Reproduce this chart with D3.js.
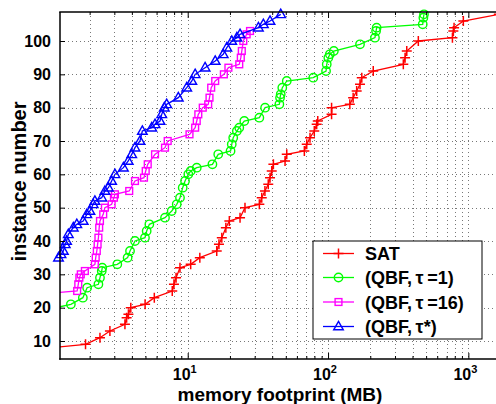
<!DOCTYPE html>
<html><head><meta charset="utf-8">
<script src="https://cdn.jsdelivr.net/npm/d3@7"></script>
<style>body{margin:0;background:#fff}svg{display:block}</style>
</head><body>
<svg id="c" width="496" height="404"></svg>
<script>
// ---- data (memory footprint in MB, instance number) ----
const satMem  = [1.1,1.87,2.37,2.79,3.57,3.67,3.78,3.93,4.97,5.78,7.76,7.98,8.26,8.81,10.5,12.2,16.1,16.7,17.5,18.7,19.8,23.6,25.6,32.4,33.7,35.5,37.5,38.6,39.7,40.8,49.4,50.8,67.8,70.5,74.4,79.8,83.0,84.5,106,106,143,151,160,169,174,210,344,354,364,440,770,782,791,921,1650];
const satInst = [8,9,11,13,15,17,18,20,21,23,25,27,29,32,33,35,37,39,41,44,46,47,50,51,53,55,57,59,61,63,64,66,67,69,71,73,75,76,78,80,81,83,85,87,89,91,93,95,97,100,101,103,104,106,108];

const q1Mem  = [1.15,1.47,1.79,1.92,2.31,2.37,2.44,2.46,3.15,3.73,3.88,4.21,4.96,5.10,5.33,6.89,7.69,8.35,8.81,9.21,9.57,10.1,10.5,11.6,15.0,16.5,20.2,20.6,21.1,22.4,23.3,25.3,32.4,35.6,45.0,45.5,46.0,47.2,50.8,78.5,96.8,97.9,100.5,103,110,169,216,220,222,473,478,483];
const q1Inst = [20,21,23,26,27,29,31,32,33,35,37,40,41,43,45,47,49,51,53,56,58,60,61,62,63,66,67,69,71,73,74,76,77,80,81,83,84,86,88,89,91,93,95,96,97,99,101,103,104,105,107,108];

const q16Mem  = [0.8,1.63,1.66,1.69,1.73,1.85,2.18,2.21,2.25,2.28,2.31,2.34,2.37,2.50,2.57,2.87,2.98,3.03,3.83,4.21,4.88,5.02,5.19,5.85,6.89,7.20,10.3,11.3,11.6,11.9,12.8,14.0,14.3,14.7,15.7,18.1,19.5,23.3,23.9,24.3,24.9,26.3,27.8];
const q16Inst = [24,25,27,29,30,31,33,35,37,39,41,44,46,48,50,51,53,54,55,58,59,61,63,66,68,70,72,74,76,78,80,81,83,86,88,90,92,93,95,97,100,102,103];

const qsMem  = [1.2,1.25,1.30,1.34,1.37,1.41,1.53,1.62,1.80,1.91,2.01,2.12,2.18,2.44,2.57,2.72,2.87,3.03,3.48,3.77,3.99,4.21,4.57,4.75,5.54,5.85,6.35,6.53,6.81,7.08,8.57,9.84,10.7,11.3,13.3,15.7,17.9,19.0,20.6,22.4,23.6,31.9,34.6,38.6,46.0];
const qsInst = [35,36,37,39,40,42,44,45,46,48,49,51,52,53,55,56,58,60,62,64,66,68,70,73,74,75,76,78,80,81,83,86,88,90,92,94,96,98,100,101,102,104,105,106,108];

const seriesNames  = ["SAT", "(QBF,\u2009\u03C4\u2009=1)", "(QBF,\u2009\u03C4\u2009=16)", "(QBF,\u2009\u03C4*)"];
const seriesColors = ["#ff0000", "#00ff00", "#ff00ff", "#0000ff"];
const seriesMarkers = ["plus", "circle", "square", "triangle"];
const yTicks = [10,20,30,40,50,60,70,80,90,100];
const xMajorExps = [1,2,3];
const xLabel = "memory footprint (MB)";
const yLabel = "instance number";

// ---- layout ----
const L=60, R=496, T=12, B=359;
const svg = d3.select("#c");
const x = d3.scaleLog().domain([1.23,1574]).range([L,R]);
const y = d3.scaleLinear().domain([4.6,108.7]).range([B,T]);

svg.append("rect").attr("x",L).attr("y",T).attr("width",R-L).attr("height",B-T).attr("fill","#fff");

const xMinor=[], xMajor=[];
for(let k=0;k<=3;k++) for(let m=1;m<=9;m++){const v=m*Math.pow(10,k); if(v>=1.23&&v<=1574){ (m===1?xMajor:xMinor).push(v);} }

// grid
const grid = svg.append("g").attr("stroke","#555").attr("stroke-width",0.8).attr("stroke-dasharray","1,3");
xMinor.concat(xMajor).forEach(v=>{
  grid.append("line").attr("x1",Math.round(x(v))+0.5).attr("x2",Math.round(x(v))+0.5).attr("y1",T).attr("y2",B);
});
yTicks.forEach(v=>{
  grid.append("line").attr("x1",L).attr("x2",R).attr("y1",Math.round(y(v))+0.5).attr("y2",Math.round(y(v))+0.5);
});

svg.append("defs").append("clipPath").attr("id","clip").append("rect").attr("x",L).attr("y",T).attr("width",R-L).attr("height",B-T);

const allMem=[satMem,q1Mem,q16Mem,qsMem], allInst=[satInst,q1Inst,q16Inst,qsInst];
const line = d3.line().x(d=>x(d[0])).y(d=>y(d[1]));

function drawMarker(g, type, cx, cy, color){
  if(type==="plus"){
    g.append("path").attr("d",`M${cx-5},${cy}H${cx+5}M${cx},${cy-5}V${cy+5}`).attr("stroke",color).attr("stroke-width",1.5).attr("fill","none");
  } else if(type==="circle"){
    g.append("circle").attr("cx",cx).attr("cy",cy).attr("r",4.2).attr("stroke",color).attr("stroke-width",1.4).attr("fill","none");
  } else if(type==="square"){
    g.append("rect").attr("x",cx-3.4).attr("y",cy-3.4).attr("width",6.8).attr("height",6.8).attr("stroke",color).attr("stroke-width",1.4).attr("fill","none");
  } else {
    g.append("path").attr("d",`M${cx},${cy-5.2}L${cx+4.8},${cy+3.3}L${cx-4.8},${cy+3.3}Z`).attr("stroke",color).attr("stroke-width",1.4).attr("fill","none");
  }
}

for(let s=0;s<4;s++){
  const pts = allMem[s].map((m,i)=>[m,allInst[s][i]]);
  const g = svg.append("g");
  g.append("path").datum(pts).attr("d",line).attr("fill","none").attr("stroke",seriesColors[s]).attr("stroke-width",1.3).attr("clip-path","url(#clip)");
  pts.filter(p=>p[0]>=1.2&&p[0]<=1700).forEach(p=>drawMarker(g,seriesMarkers[s],x(p[0]),y(p[1]),seriesColors[s]));
}

const font = "'Liberation Sans', Arial, Helvetica, sans-serif";
const xAxis = svg.append("g").attr("transform",`translate(0,${B})`);
xAxis.call(d3.axisBottom(x).tickValues(xMinor).tickSize(-3).tickFormat(""));
const xAxisMaj = svg.append("g").attr("transform",`translate(0,${B})`);
xAxisMaj.call(d3.axisBottom(x).tickValues(xMajor.filter(v=>v>=10)).tickSize(-6).tickFormat(""));
const xTop = svg.append("g").attr("transform",`translate(0,${T})`);
xTop.call(d3.axisTop(x).tickValues(xMinor).tickSize(-3).tickFormat(""));
const xTopMaj = svg.append("g").attr("transform",`translate(0,${T})`);
xTopMaj.call(d3.axisTop(x).tickValues(xMajor.filter(v=>v>=10)).tickSize(-6).tickFormat(""));
[xAxis,xAxisMaj,xTop,xTopMaj].forEach(a=>{a.select(".domain").remove(); a.selectAll("line").attr("stroke","#000");});

xMajorExps.forEach(e=>{
  const t = svg.append("text").attr("x",x(Math.pow(10,e))-3).attr("y",B+21)
    .attr("text-anchor","middle").attr("font-family",font).attr("font-weight","bold").attr("font-size",16).attr("fill","#000");
  t.append("tspan").text("10");
  t.append("tspan").attr("dy",-7).attr("font-size",11).text(e);
});

const yAxis = svg.append("g").attr("transform",`translate(${L},0)`);
yAxis.call(d3.axisLeft(y).tickValues(yTicks).tickSize(-5).tickPadding(9));
yAxis.select(".domain").remove();
yAxis.selectAll("line").attr("stroke","#000");
yAxis.selectAll("text").attr("font-family",font).attr("font-weight","bold").attr("font-size",16).attr("fill","#000");

svg.append("line").attr("x1",L).attr("x2",L).attr("y1",T).attr("y2",B+0.75).attr("stroke","#000").attr("stroke-width",1.5);
svg.append("line").attr("x1",L-0.75).attr("x2",R).attr("y1",B).attr("y2",B).attr("stroke","#000").attr("stroke-width",1.5);
svg.append("line").attr("x1",L-0.75).attr("x2",R).attr("y1",T).attr("y2",T).attr("stroke","#000").attr("stroke-width",1.5);

svg.append("text").attr("x",280).attr("y",401).attr("text-anchor","middle")
  .attr("font-family",font).attr("font-weight","bold").attr("font-size",19).text(xLabel);
svg.append("text").attr("transform",`translate(26,${(T+B)/2-4}) rotate(-90)`).attr("text-anchor","middle")
  .attr("font-family",font).attr("font-weight","bold").attr("font-size",20).text(yLabel);

const lg = svg.append("g");
lg.append("rect").attr("x",313).attr("y",241).attr("width",169).attr("height",98).attr("fill","#fff").attr("stroke","#000").attr("stroke-width",1);
const legY=[253.5,277.5,302,326.5];
for(let s=0;s<4;s++){
  lg.append("line").attr("x1",323).attr("x2",354).attr("y1",legY[s]).attr("y2",legY[s]).attr("stroke",seriesColors[s]).attr("stroke-width",1.3);
  drawMarker(lg,seriesMarkers[s],338.5,legY[s],seriesColors[s]);
  lg.append("text").attr("x",365).attr("y",legY[s]+6.5).attr("font-family",font).attr("font-weight","bold").attr("font-size",18).text(seriesNames[s]);
}
</script>
</body></html>
